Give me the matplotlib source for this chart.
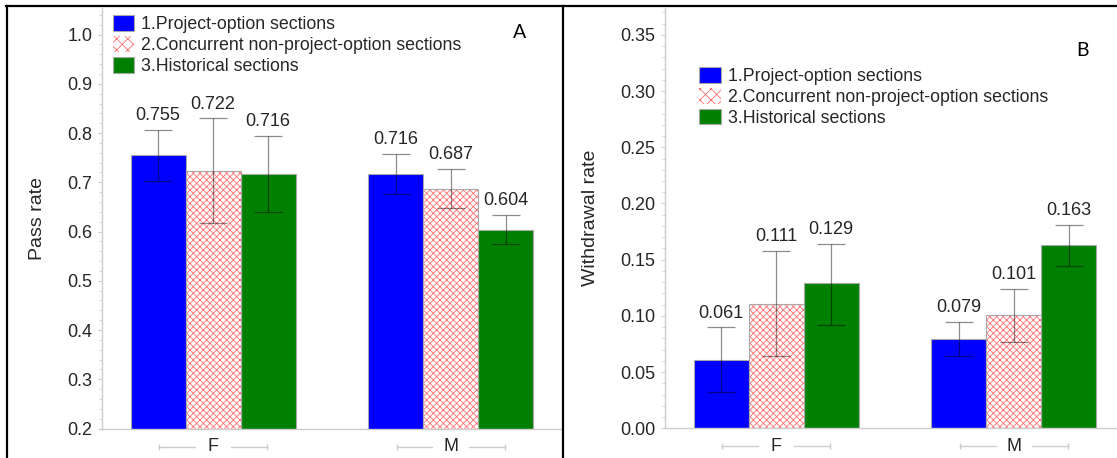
import numpy as np
import matplotlib
matplotlib.use("Agg")
import matplotlib.pyplot as plt
from matplotlib.patches import Patch
from matplotlib.lines import Line2D
from matplotlib.transforms import offset_copy

plt.rcParams['font.family'] = ['Liberation Sans', 'DejaVu Sans']
plt.rcParams['hatch.linewidth'] = 0.6

# ---------------- data ----------------
categories = ['F', 'M']
series_names = ['1.Project-option sections',
                '2.Concurrent non-project-option sections',
                '3.Historical sections']

pass_rate = [[0.755, 0.716], [0.722, 0.687], [0.716, 0.604]]
pass_upper = [[0.807, 0.758], [0.830, 0.728], [0.794, 0.634]]
pass_lower = [[0.703, 0.676], [0.617, 0.647], [0.640, 0.574]]

withdraw_rate = [[0.061, 0.079], [0.111, 0.101], [0.129, 0.163]]
withdraw_upper = [[0.090, 0.095], [0.158, 0.124], [0.164, 0.181]]
withdraw_lower = [[0.032, 0.064], [0.064, 0.077], [0.092, 0.144]]

pass_ticks = [0.2, 0.3, 0.4, 0.5, 0.6, 0.7, 0.8, 0.9, 1.0]
withdraw_ticks = [0.00, 0.05, 0.10, 0.15, 0.20, 0.25, 0.30, 0.35]

# ---------------- style ----------------
W, H = 1117, 458
DPI = 100
BLUE = '#0000ff'
GREEN = '#008000'
HATCH_C = '#ff6e6e'
HATCH = 'xxxxx'
EDGE = '#a8a8a8'
AXC = '#cccccc'
TXT = '#262626'
BW = 0.2316

fig = plt.figure(figsize=(W / DPI, H / DPI), dpi=DPI)


def px_axes(l, r, b, t):
    return [l / W, (H - b) / H, (r - l) / W, (b - t) / H]


def draw_panel(ax, vals, upper, lower, ylim, ticks, tick_fmt, ylabel, minor_step,
               legend_xy, letter, letter_xy, ylabel_xy):
    x = np.arange(len(categories))
    offsets = [-BW, 0.0, BW]
    handles = []
    for i in range(3):
        xi = x + offsets[i]
        v = np.array(vals[i])
        up = np.array(upper[i])
        lo = np.array(lower[i])
        if i == 1:
            ax.bar(xi, v, BW, color='white', edgecolor=HATCH_C, hatch=HATCH,
                   linewidth=0, zorder=2)
            ax.bar(xi, v, BW, fill=False, edgecolor=EDGE, linewidth=0.8, zorder=2.1)
            handles.append(Patch(facecolor='white', edgecolor=HATCH_C, hatch='xxx',
                                 linewidth=0))
        else:
            c = BLUE if i == 0 else GREEN
            ax.bar(xi, v, BW, color=c, edgecolor=EDGE, linewidth=0.8, zorder=2)
            handles.append(Patch(facecolor=c, edgecolor=EDGE, linewidth=0.8))
        ax.errorbar(xi, v, yerr=[v - lo, up - v], fmt='none',
                    ecolor=(0, 0, 0, 0.45), elinewidth=0.9, capsize=10,
                    capthick=0.9, zorder=3)
        for xx, vv, uu in zip(xi, v, up):
            ax.annotate(f'{vv:.3f}', xy=(xx, uu), xytext=(0, 6.9),
                        textcoords='offset points', ha='center', va='baseline',
                        fontsize=13, color=TXT)

    ax.set_xlim(-0.468, 1.469)
    ax.set_ylim(*ylim)
    ax.set_yticks(ticks)
    ax.set_yticklabels([tick_fmt.format(t) for t in ticks])
    ax.set_yticks(np.arange(ylim[0], ylim[1], minor_step), minor=True)
    ax.tick_params(axis='y', which='major', length=3, color=AXC, labelsize=13,
                   labelcolor=TXT, pad=4)
    ax.tick_params(axis='y', which='minor', length=2, color=AXC, width=0.6)
    ax.set_xticks([])
    for s in ['top', 'right']:
        ax.spines[s].set_visible(False)
    for s in ['left', 'bottom']:
        ax.spines[s].set_color(AXC)
        ax.spines[s].set_linewidth(1.0)

    ax.set_ylabel(ylabel, fontsize=14, color=TXT)
    ax.yaxis.set_label_coords(ylabel_xy[0] / W, 1 - ylabel_xy[1] / H,
                              transform=fig.transFigure)

    # category labels with bracket lines
    tr = offset_copy(ax.get_xaxis_transform(), fig=fig, y=-13.1, units='points')
    for xc, cat in zip(x, categories):
        ax.text(xc, 0, cat, transform=tr, ha='center', va='center',
                fontsize=13, color=TXT, clip_on=False)
        for a, b in [(-0.98 * BW, -0.33 * BW), (0.33 * BW, 0.98 * BW)]:
            ax.plot([xc + a, xc + b], [0, 0], color=AXC, lw=1.0, transform=tr,
                    clip_on=False)
        for e in [-0.98 * BW, 0.98 * BW]:
            ax.plot([xc + e], [0], marker='|', markersize=4,
                    color=AXC, transform=tr, clip_on=False, lw=0)

    ax.legend(handles, series_names, loc='upper left',
              bbox_to_anchor=(legend_xy[0] / W, 1 - legend_xy[1] / H),
              bbox_transform=fig.transFigure, frameon=False, borderpad=0,
              borderaxespad=0, fontsize=12.75, handlelength=1.2, handleheight=1.0,
              handletextpad=0.42, labelspacing=0.16, labelcolor=TXT)
    fig.text(letter_xy[0] / W, 1 - letter_xy[1] / H, letter, fontsize=14,
             ha='center', va='center', color='black', family=['Lato', 'DejaVu Sans'])


ax1 = fig.add_axes(px_axes(102, 562, 428.5, 8))
ax2 = fig.add_axes(px_axes(665, 665 + 460.4, 428.3, 8))

draw_panel(ax1, pass_rate, pass_upper, pass_lower, (0.2, 1.054), pass_ticks,
           '{:.1f}', 'Pass rate', 0.02, (112.7, 15.5), 'A', (520, 33), (46, 218))
draw_panel(ax2, withdraw_rate, withdraw_upper, withdraw_lower, (0.0, 0.3739),
           withdraw_ticks, '{:.2f}', 'Withdrawal rate', 0.01, (699.3, 67.0), 'B',
           (1082, 51), (599, 217.5))

# panel borders
for (x0, y0, x1, y1) in [(6, 6, W, 6), (7, 6, 7, H), (563, 6, 563, H)]:
    fig.add_artist(Line2D([x0 / W, x1 / W], [1 - y0 / H, 1 - y1 / H],
                          color='black', lw=1.6, transform=fig.transFigure))

fig.savefig('out.png', dpi=DPI)
